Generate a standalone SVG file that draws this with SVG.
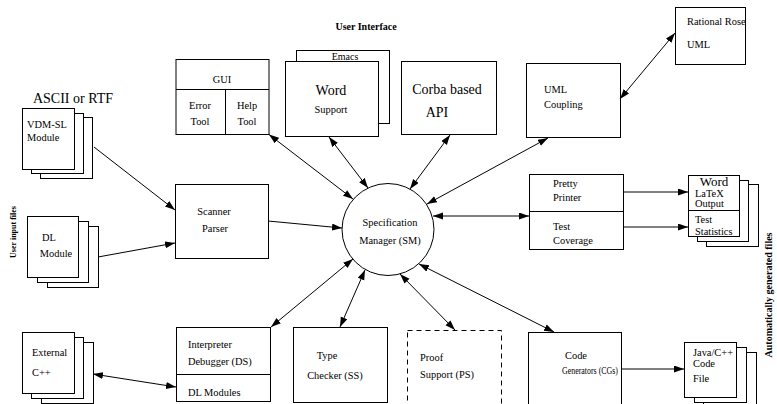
<svg xmlns="http://www.w3.org/2000/svg" width="777" height="404" viewBox="0 0 777 404">
<style>
  .t{font-family:"Liberation Serif","Times New Roman",serif;font-size:10.4px;fill:#000}
  .big{font-size:14px}
  .c{text-anchor:middle}
  .b{font-weight:bold}
  .box{fill:#fff;stroke:#000;stroke-width:1}
  .dash{fill:#fff;stroke:#000;stroke-width:1;stroke-dasharray:5,4}
  .ln{fill:none;stroke:#000;stroke-width:1}
  .con line{stroke:#000;stroke-width:1}
  .one{marker-end:url(#ah)}
  .two{marker-end:url(#ah);marker-start:url(#ah)}
</style>
<defs>
  <marker id="ah" markerUnits="userSpaceOnUse" markerWidth="11" markerHeight="8" refX="10" refY="3.5" orient="auto-start-reverse">
    <path d="M0,0 L10,3.5 L0,7 z" fill="#000"/>
  </marker>
</defs>
<rect width="777" height="404" fill="#fff"/>

<text class="t b c" x="366" y="29.5" style="font-size:10px">User Interface</text>
<text class="t big c" x="73" y="103">ASCII or RTF</text>
<text class="t b c" transform="translate(16,232) rotate(-90)" style="font-size:8px">User input files</text>
<text class="t b c" transform="translate(771.5,295) rotate(-90)" style="font-size:10px">Automatically generated files</text>

<g id="gui">
  <rect class="box" x="176" y="59.5" width="93" height="75"/>
  <line class="ln" x1="176" y1="89.5" x2="269" y2="89.5"/>
  <line class="ln" x1="225.5" y1="89.5" x2="225.5" y2="134.5"/>
  <text class="t c" x="222" y="83">GUI</text>
  <text class="t c" x="200" y="108.5">Error</text>
  <text class="t c" x="200" y="124.5">Tool</text>
  <text class="t c" x="247" y="108.5">Help</text>
  <text class="t c" x="247" y="124.5">Tool</text>
</g>

<g id="word">
  <rect class="box" x="296.5" y="50.5" width="93" height="73"/>
  <text class="t c" x="345" y="59.5" style="font-size:10px">Emacs</text>
  <rect class="box" x="285.5" y="61.5" width="93" height="75"/>
  <text class="t big c" x="331" y="95">Word</text>
  <text class="t c" x="331" y="113">Support</text>
</g>

<g id="corba">
  <rect class="box" x="401.5" y="61.5" width="95" height="73"/>
  <text class="t big c" x="447" y="94">Corba based</text>
  <text class="t big c" x="437" y="117">API</text>
</g>

<g id="umlcoupling">
  <rect class="box" x="526.5" y="63.5" width="94" height="74"/>
  <text class="t" x="544" y="93">UML</text>
  <text class="t" x="544" y="108">Coupling</text>
</g>

<g id="rose">
  <rect class="box" x="675.5" y="7.5" width="70" height="57"/>
  <text class="t" x="687" y="24.5">Rational Rose</text>
  <text class="t" x="687" y="47.5">UML</text>
</g>

<g id="vdm">
  <rect class="box" x="40.5" y="117.5" width="52" height="61"/>
  <rect class="box" x="31.5" y="113.5" width="52" height="60"/>
  <rect class="box" x="22.5" y="108.5" width="52" height="61"/>
  <text class="t" x="27" y="127.5">VDM-SL</text>
  <text class="t" x="27" y="140.5">Module</text>
</g>

<g id="dl">
  <rect class="box" x="47.5" y="226.5" width="51" height="61"/>
  <rect class="box" x="37.5" y="221.5" width="51" height="61"/>
  <rect class="box" x="27.5" y="216.5" width="51" height="61"/>
  <text class="t c" x="49" y="240.5">DL</text>
  <text class="t c" x="56" y="256.5">Module</text>
</g>

<g id="scanner">
  <rect class="box" x="175.5" y="184.5" width="93" height="74"/>
  <text class="t c" x="214" y="215">Scanner</text>
  <text class="t c" x="215" y="232">Parser</text>
</g>

<g id="sm">
  <circle class="box" cx="388" cy="229.5" r="46"/>
  <text class="t c" x="390" y="225.5">Specification</text>
  <text class="t c" x="390" y="243.5">Manager (SM)</text>
</g>

<g id="printer">
  <rect class="box" x="529.5" y="174.5" width="94" height="75"/>
  <line class="ln" x1="529.5" y1="211.5" x2="623.5" y2="211.5"/>
  <text class="t" x="553" y="186.5">Pretty</text>
  <text class="t" x="553" y="200.5">Printer</text>
  <text class="t" x="553" y="229.5">Test</text>
  <text class="t" x="553" y="243.5">Coverage</text>
</g>

<g id="output">
  <rect class="box" x="706.5" y="184.5" width="52" height="62"/>
  <rect class="box" x="697.5" y="180.5" width="51" height="61"/>
  <rect class="box" x="688.5" y="175.5" width="51" height="61"/>
  <line class="ln" x1="688.5" y1="210.5" x2="739.5" y2="210.5"/>
  <text class="t c" x="714" y="185.5" style="font-size:13px">Word</text>
  <text class="t" x="695" y="196.5">LaTeX</text>
  <text class="t" x="695" y="206.5">Output</text>
  <text class="t" x="695" y="222.5">Test</text>
  <text class="t" x="695" y="234.5">Statistics</text>
</g>

<g id="external">
  <rect class="box" x="41.5" y="342.5" width="52" height="61"/>
  <rect class="box" x="31.5" y="337.5" width="52" height="61"/>
  <rect class="box" x="22.5" y="332.5" width="52" height="61"/>
  <text class="t" x="32" y="355.5">External</text>
  <text class="t" x="32" y="375.5">C++</text>
</g>

<g id="interpreter">
  <rect class="box" x="176.5" y="327.5" width="94" height="74"/>
  <line class="ln" x1="176.5" y1="374.5" x2="270.5" y2="374.5"/>
  <text class="t" x="188" y="347.5">Interpreter</text>
  <text class="t" x="188" y="364.5">Debugger (DS)</text>
  <text class="t" x="188" y="395.5">DL Modules</text>
</g>

<g id="type">
  <rect class="box" x="293.5" y="327.5" width="94" height="75"/>
  <text class="t c" x="327" y="358.5">Type</text>
  <text class="t c" x="335" y="378.5">Checker (SS)</text>
</g>

<g id="proof">
  <rect class="dash" x="407.5" y="330.5" width="94" height="85"/>
  <text class="t" x="420" y="360.5">Proof</text>
  <text class="t" x="420" y="377.5">Support (PS)</text>
</g>

<g id="codegen">
  <rect class="box" x="528.5" y="332.5" width="93" height="85"/>
  <text class="t" x="565" y="358.5">Code</text>
  <text class="t" x="562" y="374" textLength="56" lengthAdjust="spacingAndGlyphs">Generators (CGs)</text>
</g>

<g id="java">
  <rect class="box" x="703.5" y="352.5" width="53" height="55"/>
  <rect class="box" x="694.5" y="347.5" width="52" height="55"/>
  <rect class="box" x="684.5" y="342.5" width="52" height="55"/>
  <text class="t" x="693" y="355.5">Java/C++</text>
  <text class="t" x="693" y="366.5">Code</text>
  <text class="t" x="693" y="381.5">File</text>
</g>

<g id="connectors" class="con">
  <line class="one" x1="94" y1="147" x2="175" y2="210"/>
  <line class="one" x1="98" y1="257" x2="175" y2="243"/>
  <line class="one" x1="268" y1="221" x2="342" y2="228"/>
  <line class="two" x1="269" y1="134.5" x2="353" y2="199"/>
  <line class="two" x1="329" y1="137" x2="368" y2="188"/>
  <line class="two" x1="450" y1="135" x2="410" y2="189"/>
  <line class="two" x1="548" y1="138" x2="427" y2="204"/>
  <line class="two" x1="529" y1="216" x2="433" y2="216"/>
  <line class="two" x1="620" y1="99" x2="675" y2="33"/>
  <line class="one" x1="623" y1="192" x2="688" y2="192"/>
  <line class="one" x1="623" y1="227" x2="688" y2="227"/>
  <line class="two" x1="271" y1="327" x2="353" y2="259"/>
  <line class="two" x1="340" y1="327" x2="365" y2="270"/>
  <line class="two" x1="455" y1="330" x2="400" y2="274"/>
  <line class="two" x1="554" y1="332" x2="419" y2="264"/>
  <line class="two" x1="93" y1="374" x2="176" y2="387"/>
  <line class="one" x1="621" y1="369" x2="684" y2="369"/>
</g>
</svg>
